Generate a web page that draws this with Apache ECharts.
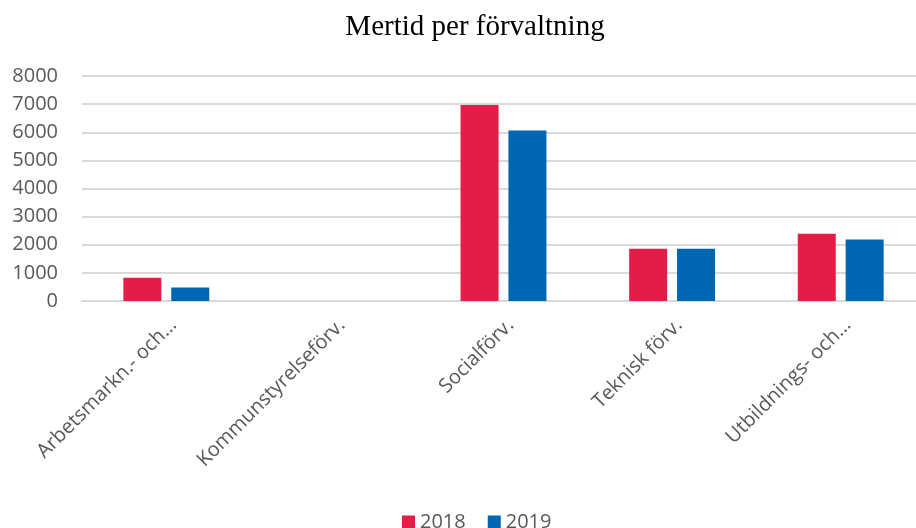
<!DOCTYPE html>
<html>
<head>
    <meta charset="utf-8">
    <title>Mertid per förvaltning</title>
    <style>
        html, body { margin: 0; padding: 0; background: #fff; }
        #main { width: 916px; height: 528px; }
    </style>
</head>
<body>
<div id="main"></div>
<script src="https://cdn.jsdelivr.net/npm/echarts@6/dist/echarts.min.js"></script>
<script>
    var categories = ['Arbetsmarkn.- och…', 'Kommunstyrelseförv.', 'Socialförv.', 'Teknisk förv.', 'Utbildnings- och…'];
    var values2018 = [830, 0, 6970, 1860, 2390];
    var values2019 = [480, 0, 6060, 1860, 2190];
    var yTicks = [0, 8000, 1000];  // min, max, step

    var chart = echarts.init(document.getElementById('main'));
    var textGrey = '#595959';
    var option = {
        animation: false,
        title: {
            text: 'Mertid per förvaltning',
            left: 470,
            textAlign: 'center',
            top: 8,
            textStyle: {
                fontFamily: 'Liberation Serif',
                fontWeight: 'normal',
                fontSize: 29,
                color: '#000'
            }
        },
        legend: {
            data: ['2018', '2019'],
            top: 507,
            left: 397,
            itemWidth: 13,
            itemHeight: 13,
            itemGap: 22,
            icon: 'rect',
            textStyle: { fontFamily: 'Open Sans', fontSize: 20, color: textGrey }
        },
        grid: {
            left: 82,
            right: -9,
            top: 76,
            bottom: 227,
            outerBoundsMode: 'none'
        },
        xAxis: {
            type: 'category',
            data: categories,
            axisLine: { lineStyle: { color: '#d9d9d9', width: 2 } },
            axisTick: { show: false },
            axisLabel: {
                rotate: 45,
                interval: 0,
                margin: 14,
                verticalAlign: 'top',
                fontFamily: 'Open Sans',
                fontSize: 20,
                color: textGrey
            }
        },
        yAxis: {
            type: 'value',
            min: yTicks[0],
            max: yTicks[1],
            interval: yTicks[2],
            axisLine: { show: false },
            axisTick: { show: false },
            splitLine: { lineStyle: { color: '#d9d9d9', width: 2 } },
            axisLabel: {
                margin: 24,
                fontFamily: 'Open Sans',
                fontSize: 20,
                color: textGrey,
                formatter: function (v) { return String(v); }
            }
        },
        series: [
            {
                name: '2018',
                type: 'bar',
                data: values2018,
                barWidth: 38,
                barGap: '26%',
                itemStyle: { color: '#e41d48' }
            },
            {
                name: '2019',
                type: 'bar',
                data: values2019,
                barWidth: 38,
                itemStyle: { color: '#0066b1' }
            }
        ]
    };
    chart.setOption(option);
</script>
</body>
</html>
